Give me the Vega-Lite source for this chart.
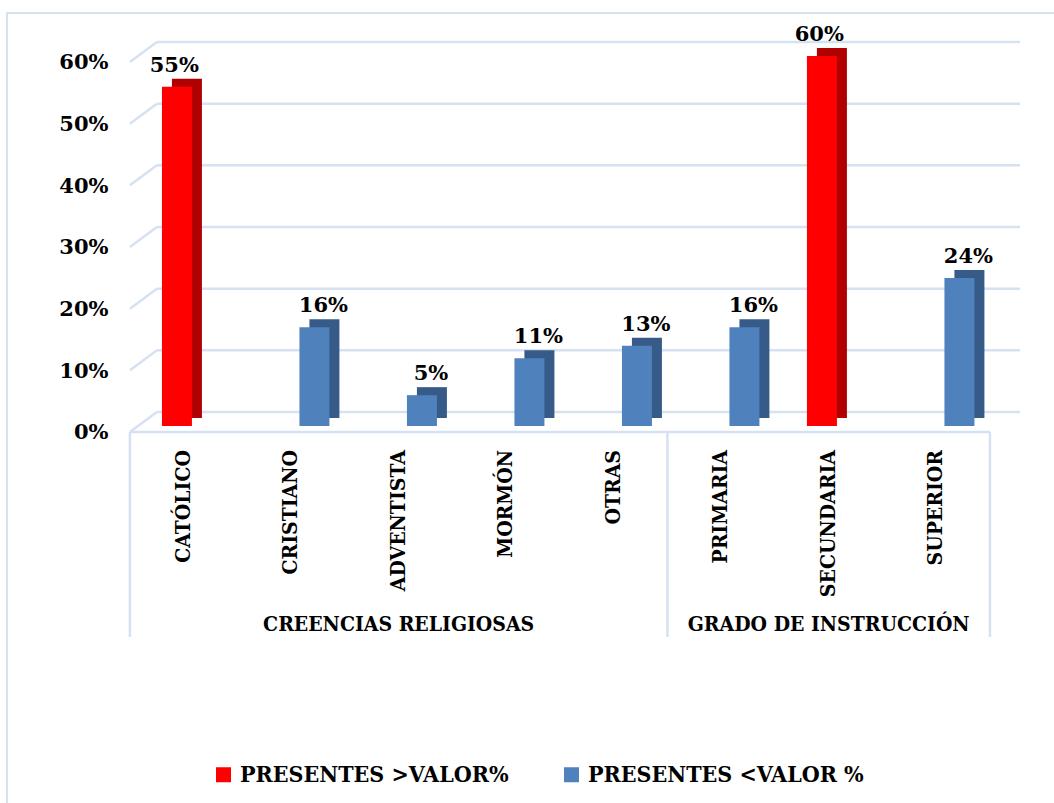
{
  "$schema": "https://vega.github.io/schema/vega-lite/v6.json",
  "width": 1054,
  "height": 803,
  "autosize": {"type": "fit", "contains": "padding"},
  "padding": {"left": 7, "top": 13, "right": -3, "bottom": -3},
  "background": "white",
  "config": {
    "view": {"stroke": "#d6e1f1", "strokeWidth": 2},
    "font": "DejaVu Serif Condensed, Liberation Serif"
  },
  "resolve": {"scale": {"xOffset": "independent"}},
  "datasets": {
    "barras": [
      {"categoria": "CATÓLICO", "grupo": "CREENCIAS RELIGIOSAS", "serie": "PRESENTES >VALOR%", "valor": 0.55},
      {"categoria": "CRISTIANO", "grupo": "CREENCIAS RELIGIOSAS", "serie": "PRESENTES <VALOR %", "valor": 0.16},
      {"categoria": "ADVENTISTA", "grupo": "CREENCIAS RELIGIOSAS", "serie": "PRESENTES <VALOR %", "valor": 0.05},
      {"categoria": "MORMÓN", "grupo": "CREENCIAS RELIGIOSAS", "serie": "PRESENTES <VALOR %", "valor": 0.11},
      {"categoria": "OTRAS", "grupo": "CREENCIAS RELIGIOSAS", "serie": "PRESENTES <VALOR %", "valor": 0.13},
      {"categoria": "PRIMARIA", "grupo": "GRADO DE INSTRUCCIÓN", "serie": "PRESENTES <VALOR %", "valor": 0.16},
      {"categoria": "SECUNDARIA", "grupo": "GRADO DE INSTRUCCIÓN", "serie": "PRESENTES >VALOR%", "valor": 0.60},
      {"categoria": "SUPERIOR", "grupo": "GRADO DE INSTRUCCIÓN", "serie": "PRESENTES <VALOR %", "valor": 0.24}
    ],
    "grid": [{"v": 0}, {"v": 0.1}, {"v": 0.2}, {"v": 0.3}, {"v": 0.4}, {"v": 0.5}, {"v": 0.6}],
    "grupos": [
      {"grupo": "CREENCIAS RELIGIOSAS", "categoria": "ADVENTISTA"},
      {"grupo": "GRADO DE INSTRUCCIÓN", "categoria": "SECUNDARIA"}
    ],
    "uno": [{}]
  },
  "encoding": {
    "x": {
      "field": "categoria",
      "type": "nominal",
      "axis": null,
      "scale": {
        "domain": ["CATÓLICO", "CRISTIANO", "ADVENTISTA", "MORMÓN", "OTRAS", "PRIMARIA", "SECUNDARIA", "SUPERIOR"],
        "paddingInner": 0,
        "paddingOuter": 0.8837,
        "align": 0.647
      }
    },
    "y": {
      "type": "quantitative",
      "scale": {"domain": [-0.6162, 0.6697], "nice": false, "zero": false}
    }
  },
  "layer": [
    {
      "data": {"name": "grid"},
      "mark": {"type": "rule", "color": "#d6e1f1", "strokeWidth": 2.5, "xOffset": 27, "x2Offset": 30, "yOffset": -14, "y2Offset": -14},
      "encoding": {
        "x": {"datum": "CATÓLICO", "bandPosition": 0},
        "x2": {"datum": "SUPERIOR", "bandPosition": 1},
        "y": {"field": "v", "type": "quantitative", "axis": {"values": [0, 0.1, 0.2, 0.3, 0.4, 0.5, 0.6], "format": ".0%", "orient": "left", "offset": -101, "domain": false, "ticks": false, "grid": false, "labelPadding": 0, "labelOffset": 7, "labelFont": "DejaVu Serif", "labelFontWeight": "bold", "labelFontSize": 21, "labelColor": "#000000", "title": null}},
        "y2": {"field": "v"}
      }
    },
    {
      "data": {"name": "grid"},
      "mark": {"type": "rule", "color": "#d6e1f1", "strokeWidth": 2.5, "x2Offset": 27, "yOffset": 6, "y2Offset": -14},
      "encoding": {
        "x": {"datum": "CATÓLICO", "bandPosition": 0},
        "x2": {"datum": "CATÓLICO", "bandPosition": 0},
        "y": {"field": "v", "type": "quantitative"},
        "y2": {"field": "v"}
      }
    },
    {
      "data": {"name": "uno"},
      "mark": {"type": "rule", "color": "#d6e1f1", "strokeWidth": 2.5, "yOffset": 6, "y2Offset": 6},
      "encoding": {
        "x": {"datum": "CATÓLICO", "bandPosition": 0},
        "x2": {"datum": "SUPERIOR", "bandPosition": 1},
        "y": {"datum": 0},
        "y2": {"datum": 0}
      }
    },
    {
      "data": {"name": "uno"},
      "mark": {"type": "rule", "color": "#d6e1f1", "strokeWidth": 2.5, "yOffset": 6},
      "encoding": {
        "x": {"datum": "CATÓLICO", "bandPosition": 0},
        "y": {"datum": 0},
        "y2": {"datum": -0.342}
      }
    },
    {
      "data": {"name": "uno"},
      "mark": {"type": "rule", "color": "#d6e1f1", "strokeWidth": 2.5, "yOffset": 6},
      "encoding": {
        "x": {"datum": "PRIMARIA", "bandPosition": 0},
        "y": {"datum": 0},
        "y2": {"datum": -0.342}
      }
    },
    {
      "data": {"name": "uno"},
      "mark": {"type": "rule", "color": "#d6e1f1", "strokeWidth": 2.5, "yOffset": 6},
      "encoding": {
        "x": {"datum": "SUPERIOR", "bandPosition": 1},
        "y": {"datum": 0},
        "y2": {"datum": -0.342}
      }
    },
    {
      "data": {"name": "barras"},
      "mark": {"type": "bar", "yOffset": -8, "y2Offset": -8},
      "encoding": {
        "xOffset": {"field": "serie", "type": "nominal", "scale": {"domain": ["PRESENTES >VALOR%", "PRESENTES <VALOR %"], "paddingInner": 0, "paddingOuter": 0.7917, "align": 0.884}},
        "y": {"field": "valor", "type": "quantitative"},
        "y2": {"datum": 0},
        "color": {"condition": {"test": "datum.serie === 'PRESENTES >VALOR%'", "value": "#b00000"}, "value": "#375b88"}
      }
    },
    {
      "data": {"name": "barras"},
      "mark": {"type": "bar"},
      "encoding": {
        "xOffset": {"field": "serie", "type": "nominal", "scale": {"domain": ["PRESENTES >VALOR%", "PRESENTES <VALOR %"], "paddingInner": 0, "paddingOuter": 0.7917, "align": 0.674}},
        "y": {"field": "valor", "type": "quantitative"},
        "y2": {"datum": 0},
        "color": {
          "field": "serie",
          "type": "nominal",
          "scale": {"domain": ["PRESENTES >VALOR%", "PRESENTES <VALOR %"], "range": ["#ff0000", "#4f81bd"]},
          "legend": {
            "title": null,
            "orient": "none",
            "legendX": 205,
            "legendY": 750,
            "direction": "horizontal",
            "symbolType": "square",
            "symbolSize": 225,
            "symbolStrokeWidth": 0,
            "labelFont": "DejaVu Serif Condensed, Liberation Serif",
            "labelFontWeight": "bold",
            "labelFontSize": 23,
            "labelColor": "#000000",
            "labelLimit": 400,
            "labelOffset": 5,
            "columnPadding": 51,
            "padding": 0
          }
        }
      }
    },
    {
      "data": {"name": "barras"},
      "mark": {"type": "text", "baseline": "alphabetic", "dy": -15, "font": "DejaVu Serif", "fontWeight": "bold", "fontSize": 21, "color": "#000000"},
      "encoding": {
        "xOffset": {"field": "serie", "type": "nominal", "scale": {"domain": ["PRESENTES >VALOR%", "PRESENTES <VALOR %"], "paddingInner": 0, "paddingOuter": 0.7917, "align": 0.674}},
        "y": {"field": "valor", "type": "quantitative"},
        "text": {"field": "valor", "type": "quantitative", "format": ".0%"}
      }
    },
    {
      "data": {"name": "barras"},
      "mark": {"type": "text", "angle": 270, "align": "right", "baseline": "middle", "font": "DejaVu Serif Condensed, Liberation Serif", "fontWeight": "bold", "fontSize": 21, "color": "#000000"},
      "encoding": {
        "y": {"datum": -0.039},
        "text": {"field": "categoria"}
      }
    },
    {
      "data": {"name": "grupos"},
      "mark": {"type": "text", "align": "center", "baseline": "middle", "font": "DejaVu Serif Condensed, Liberation Serif", "fontWeight": "bold", "fontSize": 21, "color": "#000000"},
      "encoding": {
        "y": {"datum": -0.3227},
        "text": {"field": "grupo"}
      }
    }
  ]
}
